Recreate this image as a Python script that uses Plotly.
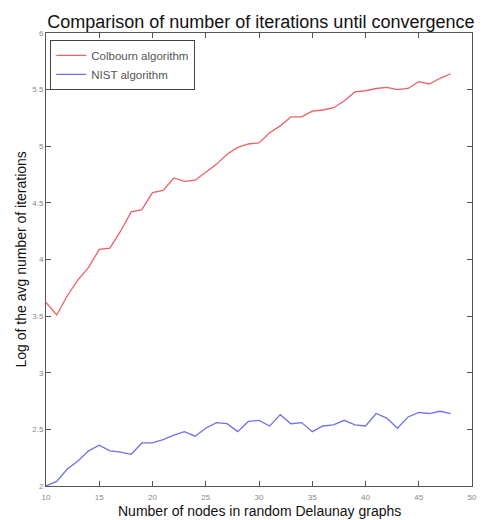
import plotly.graph_objects as go

nodes = list(range(10, 49))
colbourn = [3.62, 3.51, 3.68, 3.82, 3.93, 4.09, 4.10, 4.25, 4.42, 4.44,
            4.59, 4.61, 4.72, 4.69, 4.70, 4.77, 4.84, 4.93, 4.99, 5.02,
            5.03, 5.12, 5.18, 5.26, 5.26, 5.31, 5.32, 5.34, 5.40, 5.48,
            5.49, 5.51, 5.52, 5.50, 5.51, 5.57, 5.55, 5.60, 5.64]
nist = [2.00, 2.04, 2.15, 2.22, 2.31, 2.36, 2.31, 2.30, 2.28, 2.38,
        2.38, 2.41, 2.45, 2.48, 2.44, 2.51, 2.56, 2.55, 2.48, 2.57,
        2.58, 2.53, 2.63, 2.55, 2.56, 2.48, 2.53, 2.54, 2.58, 2.54,
        2.53, 2.64, 2.60, 2.51, 2.61, 2.65, 2.64, 2.66, 2.64]
x_ticks = [10, 15, 20, 25, 30, 35, 40, 45, 50]
y_ticks = [2, 2.5, 3, 3.5, 4, 4.5, 5, 5.5, 6]
y_tick_text = ["2", "2.5", "3", "3.5", "4", "4.5", "5", "5.5", "6"]

FONT = "Liberation Sans, Arial"

fig = go.Figure()
fig.add_trace(go.Scatter(x=nodes, y=colbourn, mode="lines", name="Colbourn algorithm",
                         line=dict(color="rgb(236,96,106)", width=1.3)))
fig.add_trace(go.Scatter(x=nodes, y=nist, mode="lines", name="NIST algorithm",
                         line=dict(color="rgb(112,112,232)", width=1.3)))

axis_common = dict(showgrid=False, zeroline=False, showline=True, mirror="ticks",
                   linecolor="#555555", linewidth=1, ticks="inside", ticklen=5,
                   tickcolor="#555555", tickfont=dict(family=FONT, size=8, color="#888888"))

fig.update_layout(
    width=478, height=512,
    margin=dict(l=38, r=9, t=25, b=34),
    paper_bgcolor="white", plot_bgcolor="white",
    title=dict(text="Comparison of number of iterations until convergence",
               x=0.529, xanchor="center", y=0.9727, yanchor="middle",
               font=dict(family=FONT, size=18, color="#111111")),
    xaxis=dict(range=[10, 50], tickvals=x_ticks, ticklabelstandoff=3, **axis_common),
    yaxis=dict(range=[2, 6], tickvals=y_ticks, ticktext=y_tick_text, **axis_common),
    legend=dict(x=0.01, y=0.985, xanchor="left", yanchor="top",
                bgcolor="white", bordercolor="#444444", borderwidth=1,
                font=dict(family=FONT, size=11.5, color="#555555"),
                tracegroupgap=0, itemwidth=30),
    showlegend=True,
    annotations=[
        dict(text="Number of nodes in random Delaunay graphs", xref="paper", yref="paper",
             x=0.5, y=0, xanchor="center", yanchor="middle", yshift=-25, showarrow=False,
             font=dict(family=FONT, size=14, color="#111111")),
        dict(text="Log of the avg number of iterations", xref="paper", yref="paper",
             x=0, y=0.5, xanchor="center", yanchor="middle", xshift=-26, textangle=-90,
             showarrow=False, font=dict(family=FONT, size=14, color="#111111")),
    ],
)

fig.write_html("out.html")
